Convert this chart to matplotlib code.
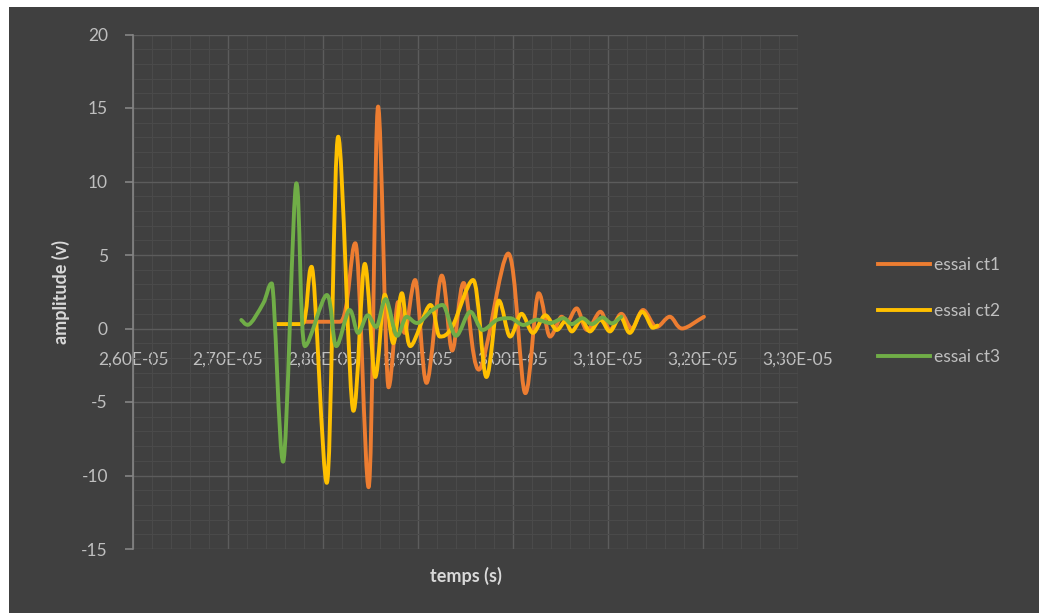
import numpy as np
import matplotlib
matplotlib.use("Agg")
import matplotlib.pyplot as plt
from matplotlib.path import Path
from matplotlib.patches import PathPatch, Rectangle
from matplotlib.lines import Line2D
from matplotlib.ticker import MultipleLocator, FuncFormatter

# ---- data (time in units of 1e-5 s, amplitude in V) ----
t_ct1 = [2.778, 2.818, 2.834, 2.848, 2.858, 2.869, 2.879, 2.886, 2.897, 2.909,
         2.925, 2.936, 2.948, 2.964, 2.995, 3.013, 3.027, 3.039, 3.051, 3.057,
         3.067, 3.078, 3.092, 3.102, 3.114, 3.125, 3.137, 3.151, 3.165, 3.178,
         3.201]
a_ct1 = [0.46, 0.46, 5.8, -10.8, 15.1, -4.0, 1.8, -0.3, 3.3, -3.7,
         3.6, -1.5, 3.1, -2.8, 5.1, -4.4, 2.4, -0.55, 0.8, 0.4,
         1.37, -0.1, 1.14, -0.1, 1.0, 0.0, 1.26, 0.1, 0.8, 0.0,
         0.8]

t_ct2 = [2.751, 2.778, 2.788, 2.804, 2.816, 2.832, 2.844, 2.855, 2.865, 2.874,
         2.883, 2.892, 2.913, 2.923, 2.936, 2.958, 2.972, 2.985, 2.997, 3.009,
         3.021, 3.034, 3.046, 3.055, 3.062, 3.072, 3.081, 3.092, 3.102, 3.113,
         3.123, 3.136, 3.147, 3.152]
a_ct2 = [0.3, 0.3, 4.2, -10.5, 13.05, -5.6, 4.4, -3.3, 2.3, -1.0,
         2.4, -1.2, 1.6, -0.55, 0.1, 3.3, -3.3, 1.9, -0.55, 1.0,
         -0.3, 0.9, -0.1, 0.5, -0.2, 0.6, -0.2, 0.6, -0.2, 0.8,
         -0.3, 1.14, 0.05, 0.2]

t_ct3 = [2.714, 2.721, 2.737, 2.746, 2.758, 2.772, 2.781, 2.804, 2.814, 2.828,
         2.837, 2.847, 2.856, 2.866, 2.878, 2.888, 2.899, 2.914, 2.926, 2.940,
         2.955, 2.968, 2.983, 2.997, 3.011, 3.025, 3.039, 3.053, 3.062, 3.073,
         3.083, 3.094, 3.104, 3.114]
a_ct3 = [0.58, 0.25, 1.7, 3.07, -9.06, 9.88, -1.2, 2.28, -1.2, 1.26,
         -0.3, 0.9, 0.1, 2.0, -0.5, 0.8, 0.37, 1.2, 1.6, -0.5,
         1.14, -0.1, 0.58, 0.7, 0.24, 0.6, 0.37, 0.7, 0.3, 0.7,
         0.3, 0.75, 0.35, 0.8]

series = [
    ("essai ct1", t_ct1, a_ct1, "#ED7D31"),
    ("essai ct2", t_ct2, a_ct2, "#FFC000"),
    ("essai ct3", t_ct3, a_ct3, "#70AD47"),
]

x_ticks = [2.60, 2.70, 2.80, 2.90, 3.00, 3.10, 3.20, 3.30]
y_ticks = [-15, -10, -5, 0, 5, 10, 15, 20]

BG = "#404040"
TXT = "#bfbfbf"
TITLE = "#d9d9d9"
FONT = ["Lato", "DejaVu Sans"]
plt.rcParams["font.family"] = FONT
plt.rcParams["axes.unicode_minus"] = False


def smooth_path(x, y):
    """Cubic Bezier path through the points; flat tangents at local peaks."""
    p = np.column_stack([x, y]).astype(float)
    n = len(p)
    m = np.zeros_like(p)
    m[0] = p[1] - p[0]
    m[-1] = p[-1] - p[-2]
    for i in range(1, n - 1):
        m[i] = (p[i + 1] - p[i - 1]) / 2.0
        if (p[i, 1] - p[i - 1, 1]) * (p[i + 1, 1] - p[i, 1]) <= 0:
            m[i, 1] = 0.0
    verts = [p[0]]
    codes = [Path.MOVETO]
    for i in range(n - 1):
        c1 = p[i] + m[i] / 3.0
        c2 = p[i + 1] - m[i + 1] / 3.0
        verts += [c1, c2, p[i + 1]]
        codes += [Path.CURVE4] * 3
    return Path(verts, codes)


fig = plt.figure(figsize=(10.39, 6.13), dpi=100, facecolor="white")
fig.patches.append(Rectangle((9 / 1039, 0), 1, 1 - 7 / 613,
                             transform=fig.transFigure, facecolor=BG,
                             edgecolor="none", zorder=-10))

ax = fig.add_axes([133 / 1039, 1 - 549 / 613, (798 - 133) / 1039, (549 - 34.5) / 613])
ax.set_facecolor(BG)

LW = 2.8
handles = []
for label, t, a, color in series:
    tx = np.array(t) * 1e-5
    ay = np.array(a)
    patch = PathPatch(smooth_path(tx, ay), fill=False, edgecolor=color,
                      lw=LW, transform=ax.transData, capstyle="round",
                      joinstyle="round", zorder=3)
    ax.add_patch(patch)
    handles.append(Line2D([], [], color=color, lw=LW, label=label))

ax.set_xlim(x_ticks[0] * 1e-5, x_ticks[-1] * 1e-5)
ax.set_ylim(y_ticks[0], y_ticks[-1])
ax.set_xticks([v * 1e-5 for v in x_ticks])
ax.set_yticks(y_ticks)
ax.xaxis.set_minor_locator(MultipleLocator(0.02e-5))
ax.yaxis.set_minor_locator(MultipleLocator(1))
ax.xaxis.set_major_formatter(FuncFormatter(lambda v, _: f"{v:.2E}".replace(".", ",")))

ax.grid(which="major", color="#5c5c5c", lw=1.0, zorder=0)
ax.grid(which="minor", color="#4a4a4a", lw=0.8, zorder=0)
ax.set_axisbelow(True)

for s in ("top", "right"):
    ax.spines[s].set_visible(False)
ax.spines["bottom"].set_position(("data", 0))
ax.spines["bottom"].set_visible(False)
ax.spines["left"].set_color("#858585")
ax.spines["left"].set_linewidth(1.2)

ax.tick_params(axis="x", which="both", length=0, pad=17, labelsize=12.5, labelcolor=TXT)
ax.tick_params(axis="y", which="major", length=6, width=1.2, color="#858585",
               pad=12, labelsize=12.5, labelcolor=TXT)
ax.tick_params(axis="y", which="minor", length=0)

ax.set_ylabel("amplitude (v)", color=TITLE, fontsize=13, fontweight="bold", labelpad=8)
ax.set_xlabel("temps (s)", color=TITLE, fontsize=13, fontweight="bold")
ax.xaxis.set_label_coords(0.5, -0.035)

fig.legend(handles=handles, loc="center left",
           bbox_to_anchor=(878 / 1039, 1 - 311 / 613), frameon=False,
           fontsize=12.5, labelcolor=TXT, handlelength=3.0,
           handletextpad=0.2, labelspacing=1.75, borderpad=0, borderaxespad=0)

fig.savefig("out.png", dpi=100, facecolor=fig.get_facecolor())
